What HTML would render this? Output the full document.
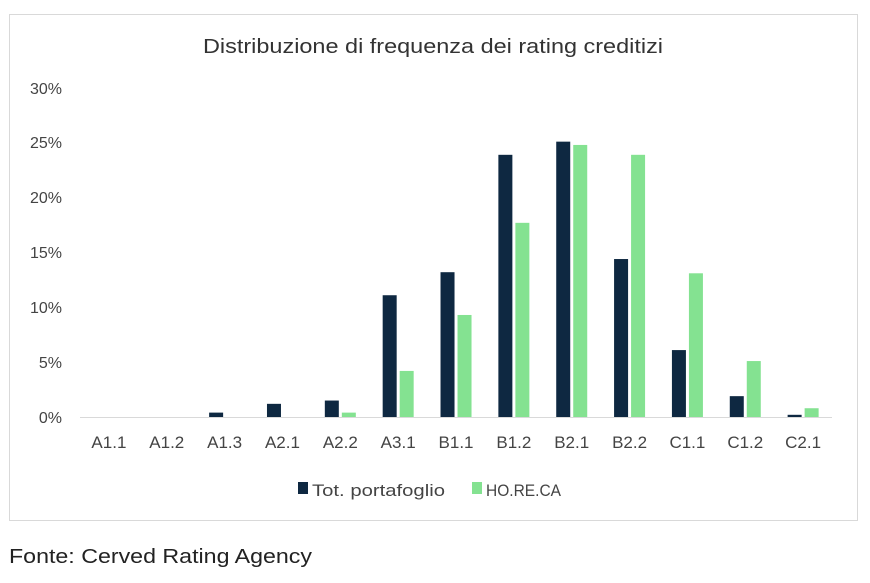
<!DOCTYPE html>
<html><head><meta charset="utf-8"><style>
body{margin:0;width:870px;height:578px;background:#fff;overflow:hidden;font-family:"Liberation Sans",sans-serif;}
</style></head><body>
<svg width="870" height="578" xmlns="http://www.w3.org/2000/svg" font-family="Liberation Sans, sans-serif">
<rect x="9.5" y="14.5" width="848" height="506" fill="#fff" stroke="#d9d9d9"/>
<text x="203" y="53" font-size="20" fill="#333" textLength="460" lengthAdjust="spacingAndGlyphs">Distribuzione di frequenza dei rating creditizi</text>
<g font-size="16" fill="#444" text-anchor="end">
<text x="62" y="423">0%</text><text x="62" y="368">5%</text><text x="62" y="313">10%</text>
<text x="62" y="258">15%</text><text x="62" y="203">20%</text><text x="62" y="148">25%</text><text x="62" y="94">30%</text>
</g>
<line x1="80" y1="417.5" x2="832" y2="417.5" stroke="#d9d9d9"/>
<g id="bars"></g>
<g font-size="17" fill="#444" text-anchor="middle" id="labels"></g>
<rect x="298" y="482" width="10" height="12" fill="#0e2841"/>
<text x="312" y="496" font-size="17" fill="#444" textLength="133" lengthAdjust="spacingAndGlyphs">Tot. portafoglio</text>
<rect x="472" y="482" width="10" height="12" fill="#84e291"/>
<text x="486" y="496" font-size="17" fill="#444" textLength="75" lengthAdjust="spacingAndGlyphs">HO.RE.CA</text>
<text x="9" y="563" font-size="20" fill="#222" textLength="303" lengthAdjust="spacingAndGlyphs">Fonte: Cerved Rating Agency</text>
</svg>
<script>
var cats=["A1.1","A1.2","A1.3","A2.1","A2.2","A3.1","B1.1","B1.2","B2.1","B2.2","C1.1","C1.2","C2.1"];
var d=[0,0,0.4,1.2,1.5,11.1,13.2,23.9,25.1,14.4,6.1,1.9,0.2];
var g=[0,0,0,0,0.4,4.2,9.3,17.7,24.8,23.9,13.1,5.1,0.8];
var ns="http://www.w3.org/2000/svg",B=document.getElementById("bars"),L=document.getElementById("labels");
function r(x,v,c){if(v<=0)return;var e=document.createElementNS(ns,"rect");var h=v*10.97;e.setAttribute("x",x);e.setAttribute("y",417-h);e.setAttribute("width",14);e.setAttribute("height",h);e.setAttribute("fill",c);B.appendChild(e);}
cats.forEach(function(c,i){var cx=80+(i+0.5)*57.85;r(cx-15.5,d[i],"#0e2841");r(cx+1.5,g[i],"#84e291");
var t=document.createElementNS(ns,"text");t.setAttribute("x",cx);t.setAttribute("y",448);t.textContent=c;L.appendChild(t);});
</script>
</body></html>
